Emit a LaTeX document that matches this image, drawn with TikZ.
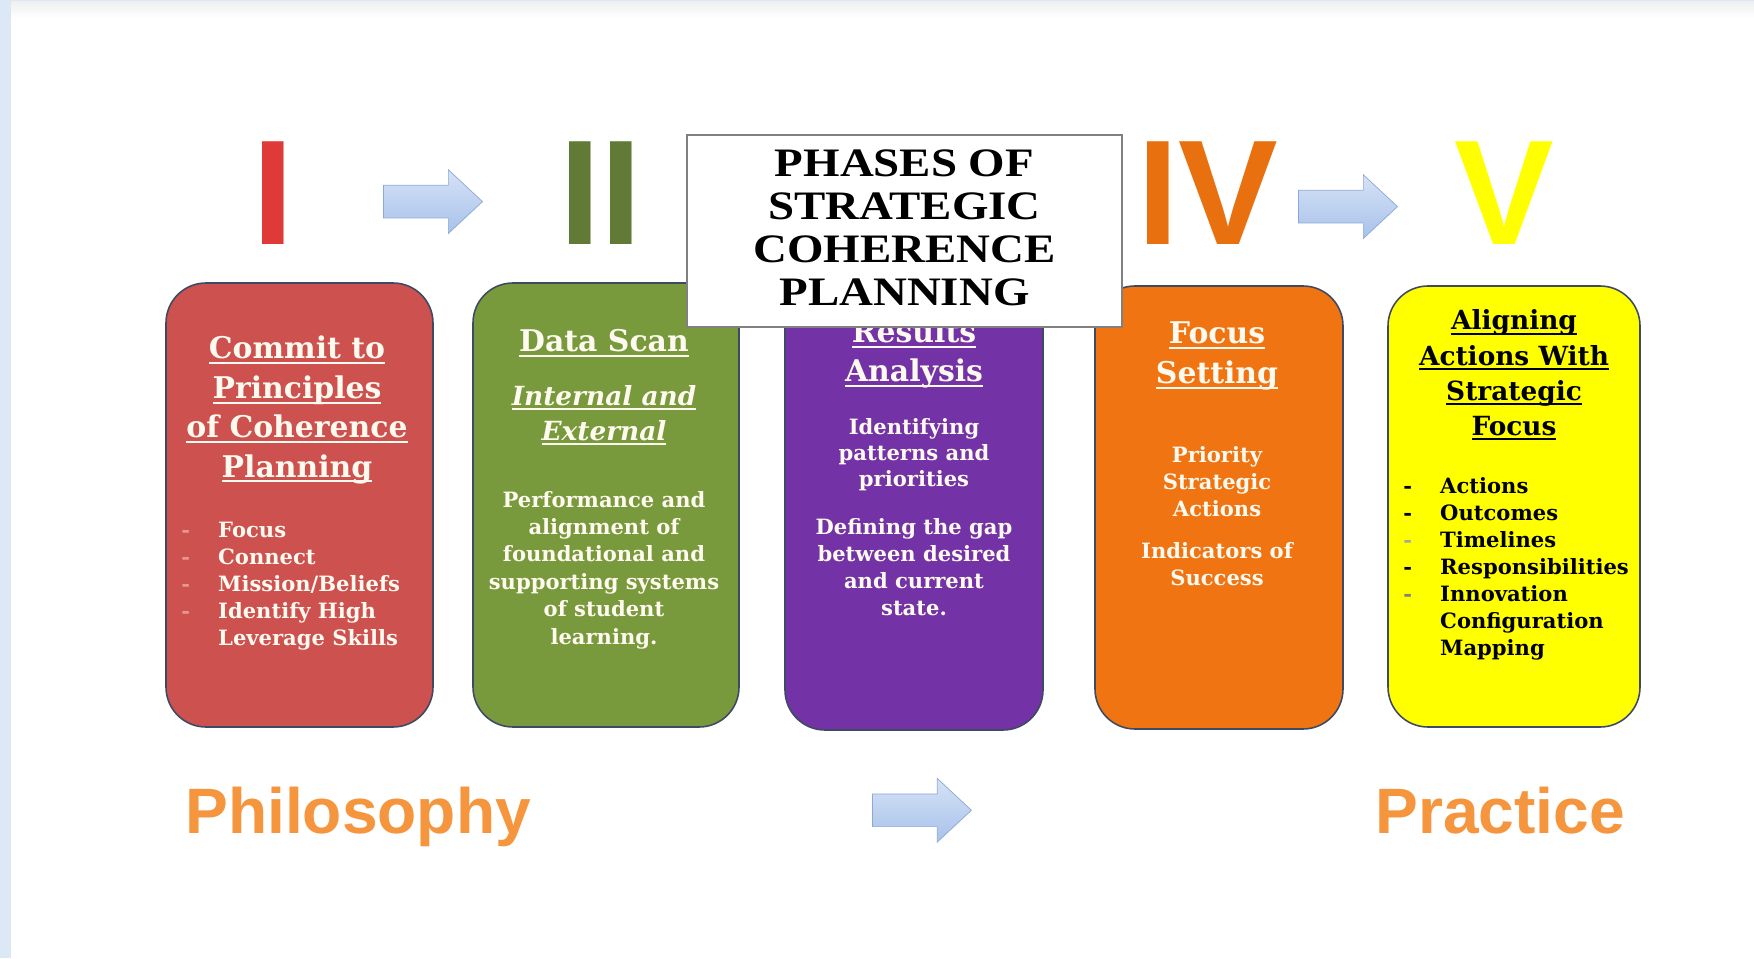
\documentclass[tikz,border=0pt]{standalone}
\usepackage{fontspec}
\setmainfont{DejaVu Serif}
\newfontfamily\titlefont[FakeStretch=1.16]{Liberation Serif}
\newfontfamily\numfont{Liberation Sans}
\usetikzlibrary{shapes.arrows, calc}

\definecolor{pagebg}{HTML}{DCE8F5}
\definecolor{boxline}{HTML}{3E4A63}
\definecolor{phred}{HTML}{CD514E}
\definecolor{phgreen}{HTML}{789A3C}
\definecolor{phpurple}{HTML}{7333A6}
\definecolor{phorange}{HTML}{F07512}
\definecolor{phyellow}{HTML}{FFFF00}
\definecolor{boxtext}{HTML}{FFFAF0}
\definecolor{dashred}{HTML}{E59794}
\definecolor{numred}{HTML}{E03A38}
\definecolor{numgreen}{HTML}{617A35}
\definecolor{numorange}{HTML}{E8700E}
\definecolor{arrowtop}{HTML}{D6E2F6}
\definecolor{arrowbot}{HTML}{A7C2EA}
\definecolor{arrowline}{HTML}{8DA8D6}
\definecolor{wordorange}{HTML}{F5963F}

% underlined heading line, rule at a fixed depth below the baseline
\newcommand\hdline[1]{\setbox0=\hbox{#1}\rlap{\rule[-0.18em]{\wd0}{0.07em}}\box0}

\begin{document}
\begin{tikzpicture}[x=0.02cm, y=0.02cm,
    phasebox/.style={draw=boxline, line width=0.9pt, rounded corners=0.8cm},
    boxhead/.style={font=\bfseries\fontsize{17}{22.4}\selectfont, align=center, text=boxtext, inner sep=0},
    boxbody/.style={font=\bfseries\fontsize{12}{15.4}\selectfont, align=center, text=boxtext, inner sep=0},
    numeral/.style={font=\numfont\bfseries\fontsize{85}{85}\selectfont, anchor=base, inner sep=0},
    blockarrow/.style={single arrow, draw=arrowline, top color=arrowtop, bottom color=arrowbot,
      minimum height=1.98cm, inner xsep=0, inner ysep=0.32cm, single arrow head extend=0.31cm,
      single arrow tip angle=86},
    bigword/.style={font=\numfont\bfseries\fontsize{36.5}{36.5}\selectfont, text=wordorange,
      anchor=base west, inner sep=0}]
    % page
    \fill[pagebg] (0,0) rectangle (1754,958);
    \fill[white] (11,0) rectangle (1754,956);
    \shade[top color=black!6, bottom color=white] (11,940) rectangle (1754,956);
    % phase boxes
    \draw[phasebox, fill=phred]    (166,231) rectangle (433,675);
    \draw[phasebox, fill=phgreen]  (473,231) rectangle (739,675);
    \draw[phasebox, fill=phpurple] (785,228) rectangle (1043,672);
    \draw[phasebox, fill=phorange] (1095,229) rectangle (1343,672);
    \draw[phasebox, fill=phyellow] (1388,231) rectangle (1640,672);
    % roman numerals and the arrows between them
    \node[numeral, text=numred]    (nI)  at (273,713)    {I};
    \node[numeral, text=numgreen]  (nII) at (600.5,713)  {II};
    \node[numeral, text=numorange] (nIV) at (1208,713)   {IV};
    \node[numeral, text=phyellow]  (nV)  at (1504.5,713) {V};
    \node[blockarrow] (a12) at ($(nI)!0.5!(nII)+(-12.5,-8)$) {};
    \node[blockarrow] (a45) at ($(nIV)!0.5!(nV)+(-17,-13)$) {};
    % phase I
    \node[boxhead] (redhead) at (297,548)
          {\hdline{Commit to}\\ \hdline{Principles}\\ \hdline{of Coherence}\\ \hdline{Planning}};
    \node[boxbody, anchor=west, align=left] (redlist) at (181,372)
          {\begin{tabular}{@{}l@{\hspace{16pt}}l@{}}
             \color{dashred}- & Focus\\
             \color{dashred}- & Connect\\
             \color{dashred}- & Mission/Beliefs\\
             \color{dashred}- & Identify High\\
                              & Leverage Skills
           \end{tabular}};
    % phase II
    \node[boxhead] (greenhead) at (604,615) {\hdline{Data Scan}};
    \node[boxhead, font=\bfseries\itshape\fontsize{15}{20}\selectfont] (greensub) at (604,543)
          {\hdline{Internal and}\\ \hdline{External}};
    \node[boxbody, font=\bfseries\fontsize{12}{15.6}\selectfont] (greenbody) at (604,388)
          {Performance and\\ alignment of\\ foundational and\\ supporting systems\\ of student\\ learning.};
    % phase III
    \node[boxhead] (purplehead) at (914,604) {\hdline{Results}\\ \hdline{Analysis}};
    \node[boxbody, font=\bfseries\fontsize{12}{14.8}\selectfont] (purplebody1) at (914,503)
          {Identifying\\ patterns and\\ priorities};
    \node[boxbody] (purplebody2) at (914,391)
          {Defining the gap\\ between desired\\ and current\\ state.};
    % phase IV
    \node[boxhead] (orangehead) at (1217,602) {\hdline{Focus}\\ \hdline{Setting}};
    \node[boxbody] (orangebody1) at (1217,476) {Priority\\ Strategic\\ Actions};
    \node[boxbody] (orangebody2) at (1217,394) {Indicators of\\ Success};
    % phase V
    \node[boxhead, text=black, font=\bfseries\fontsize{15}{20}\selectfont] (yellowhead) at (1514,583)
          {\hdline{Aligning}\\ \hdline{Actions With}\\ \hdline{Strategic}\\ \hdline{Focus}};
    \node[boxbody, text=black, anchor=west, align=left] (yellowlist) at (1403,389)
          {\begin{tabular}{@{}l@{\hspace{16pt}}l@{}}
             - & Actions\\
             - & Outcomes\\
             \color{black!35}- & Timelines\\
             - & Responsibilities\\
             \color{black!50}- & Innovation\\
               & Configuration\\
               & Mapping
           \end{tabular}};
    % title panel, laid over phase III
    \node[draw=black!50, line width=1.1pt, fill=white, minimum width=8.7cm, minimum height=3.84cm,
          text depth=3.7pt, align=center, font=\titlefont\bfseries\fontsize{23}{24.6}\selectfont]
          (title) at (904.5,727) {PHASES OF\\ STRATEGIC\\ COHERENCE\\ PLANNING};
    % bottom line
    \node[bigword] (philo) at (185,125) {Philosophy};
    \node[bigword] (prac)  at (1375,125) {Practice};
    \node[blockarrow] (a15) at ($(philo)!0.5!(prac)+(-16,3)$) {};
\end{tikzpicture}
\end{document}
